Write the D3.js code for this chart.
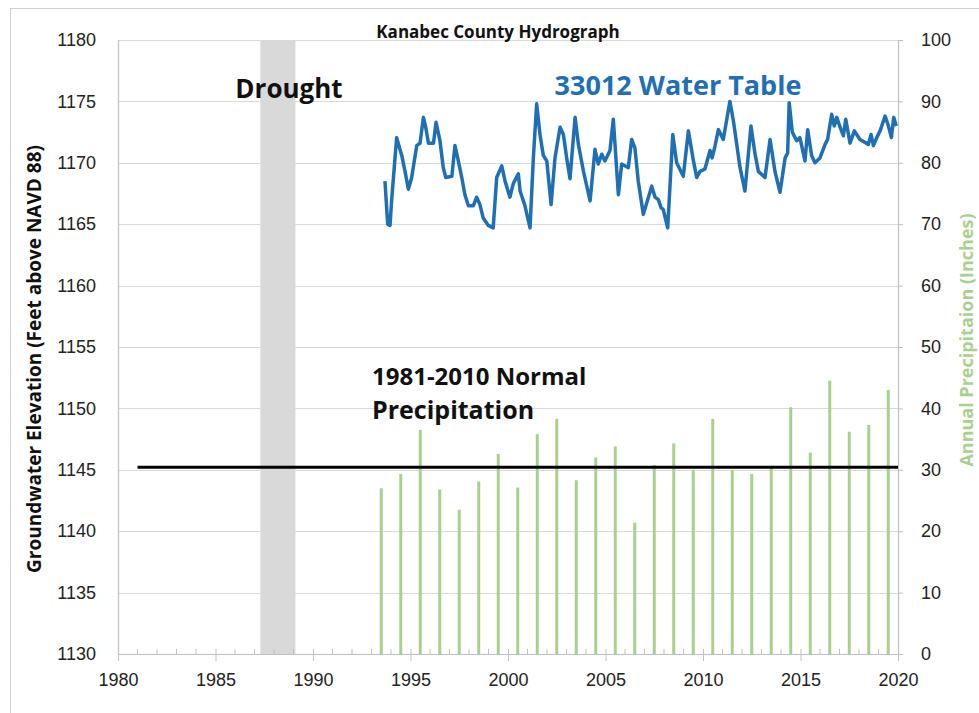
<!DOCTYPE html>
<html><head><meta charset="utf-8">
<script src="https://cdn.jsdelivr.net/npm/d3@7"></script>
<style>body{margin:0;background:#fff;} svg{display:block;font-family:"Open Sans","Liberation Sans",sans-serif;}</style>
</head><body><svg id="c" width="979" height="713"></svg>
<script>
const precipYears = [1993,1994,1995,1996,1997,1998,1999,2000,2001,2002,2003,2004,2005,2006,2007,2008,2009,2010,2011,2012,2013,2014,2015,2016,2017,2018,2019];
const precipInches = [27.0,29.3,36.5,26.8,23.5,28.1,32.6,27.1,35.8,38.3,28.3,32.0,33.8,21.4,30.8,34.3,30.0,38.3,30.0,29.3,30.6,40.2,32.8,44.5,36.2,37.3,43.0];
const wtYears = [1993.69,1993.83,1993.95,1994.03,1994.29,1994.55,1994.72,1994.89,1995.06,1995.32,1995.49,1995.66,1995.78,1995.92,1996.18,1996.31,1996.51,1996.68,1996.81,1997.12,1997.28,1997.42,1997.63,1997.79,1997.97,1998.22,1998.39,1998.56,1998.73,1998.99,1999.24,1999.42,1999.68,1999.85,2000.1,2000.27,2000.53,2000.62,2000.87,2001.13,2001.3,2001.47,2001.64,2001.81,2001.99,2002.21,2002.41,2002.67,2002.84,2003.01,2003.18,2003.44,2003.61,2003.87,2004.21,2004.46,2004.63,2004.81,2004.97,2005.23,2005.4,2005.66,2005.83,2006.17,2006.34,2006.51,2006.68,2006.94,2007.37,2007.54,2007.71,2007.85,2007.96,2008.19,2008.45,2008.65,2008.99,2009.25,2009.51,2009.68,2009.85,2010.1,2010.36,2010.47,2010.62,2010.79,2011.04,2011.38,2011.56,2011.9,2012.15,2012.46,2012.67,2012.84,2013.18,2013.44,2013.69,2013.95,2014.21,2014.34,2014.42,2014.58,2014.8,2014.97,2015.23,2015.37,2015.57,2015.74,2016.0,2016.26,2016.39,2016.6,2016.73,2016.86,2017.03,2017.2,2017.32,2017.54,2017.76,2018.05,2018.48,2018.62,2018.74,2018.91,2019.08,2019.34,2019.51,2019.66,2019.78,2019.91];
const wtLevels = [1168.5,1165.0,1164.9,1166.9,1172.05,1170.6,1169.3,1167.85,1168.8,1171.4,1171.6,1173.7,1172.9,1171.6,1171.6,1173.3,1171.8,1169.6,1168.8,1168.9,1171.4,1170.4,1168.8,1167.4,1166.5,1166.5,1167.2,1166.6,1165.5,1164.9,1164.7,1168.8,1169.75,1168.5,1167.2,1168.3,1169.1,1167.7,1166.5,1164.7,1170.4,1174.8,1172.3,1170.6,1170.15,1166.6,1170.4,1172.9,1172.3,1170.4,1168.7,1173.7,1171.5,1169.3,1166.9,1171.1,1169.9,1170.7,1170.15,1171.0,1173.55,1167.4,1169.9,1169.6,1171.9,1171.2,1168.5,1165.8,1168.1,1167.2,1167.0,1166.35,1166.2,1164.7,1172.3,1170.0,1168.9,1172.6,1170.15,1168.8,1169.3,1169.5,1171.0,1170.4,1171.4,1172.7,1171.9,1175.0,1173.4,1169.6,1167.7,1173.0,1170.7,1169.3,1168.8,1171.9,1169.3,1167.6,1170.4,1170.8,1174.9,1172.5,1171.8,1172.05,1170.15,1172.7,1170.6,1170.0,1170.4,1171.5,1171.9,1173.95,1173.0,1173.7,1172.9,1172.2,1173.55,1171.6,1172.6,1171.9,1171.5,1172.3,1171.4,1172.05,1172.6,1173.8,1173.0,1172.05,1173.7,1173.0];
const leftTicks = [1130,1135,1140,1145,1150,1155,1160,1165,1170,1175,1180];
const rightTicks = [0,10,20,30,40,50,60,70,80,90,100];
const xTicks = [1980,1985,1990,1995,2000,2005,2010,2015,2020];
const normalPrecip = 30.4;
const normalSpan = [1981, 2020];
const droughtSpan = [1987.3, 1989.1];

const svg = d3.select("#c");
const L=118, R=898, T=40, B=654;
const x = d3.scaleLinear().domain([1980,2020]).range([L,R]);
const yL = d3.scaleLinear().domain([1130,1180]).range([B,T]);
const yR = d3.scaleLinear().domain([0,100]).range([B,T]);

// outer border
svg.append("rect").attr("x",10.5).attr("y",8.5).attr("width",1000).attr("height",1000)
  .attr("fill","none").attr("stroke","#d0d0d0");

// gridlines
svg.append("g").selectAll("line").data(leftTicks.filter(d=>d>1130)).join("line")
  .attr("x1",L).attr("x2",R).attr("y1",d=>Math.round(yL(d))+0.5).attr("y2",d=>Math.round(yL(d))+0.5)
  .attr("stroke","#d9d9d9").attr("stroke-width",1.2);

// drought band
svg.append("rect").attr("x",x(droughtSpan[0])).attr("width",x(droughtSpan[1])-x(droughtSpan[0]))
  .attr("y",T).attr("height",B-T).attr("fill","#d9d9d9");

// precipitation bars
svg.append("g").selectAll("line").data(precipYears).join("line")
  .attr("x1",(d)=>x(d+0.5)).attr("x2",(d)=>x(d+0.5))
  .attr("y1",B).attr("y2",(d,i)=>yR(precipInches[i]))
  .attr("stroke","#a9d18e").attr("stroke-width",3);

// axes lines
svg.append("line").attr("x1",L+0.5).attr("x2",L+0.5).attr("y1",T).attr("y2",B).attr("stroke","#bfbfbf").attr("stroke-width",1.2);
svg.append("line").attr("x1",R+0.5).attr("x2",R+0.5).attr("y1",T).attr("y2",B).attr("stroke","#bfbfbf").attr("stroke-width",1.2);

// x axis
const xAxis = d3.axisBottom(x).tickValues(xTicks).tickFormat(d3.format("d")).tickSize(7).tickSizeOuter(0);
const gx = svg.append("g").attr("transform",`translate(0,${B})`).call(xAxis);
gx.select(".domain").attr("stroke","#bfbfbf").attr("stroke-width",1.2);
gx.selectAll(".tick line").attr("stroke","#bfbfbf").attr("y1",-5);
gx.selectAll(".tick text").attr("font-size",18).attr("fill","#222").attr("dy","1.2em");
const minorYears = d3.range(1980,2021).filter(d=>d%5!==0);
svg.append("g").selectAll("line").data(minorYears).join("line")
  .attr("x1",d=>x(d)).attr("x2",d=>x(d)).attr("y1",B-5).attr("y2",B)
  .attr("stroke","#bfbfbf");

// left axis
const gl = svg.append("g").attr("transform",`translate(${L},0)`)
  .call(d3.axisLeft(yL).tickValues(leftTicks).tickFormat(d3.format("d")).tickSize(0).tickPadding(22));
gl.select(".domain").remove();
gl.selectAll(".tick text").attr("font-size",18).attr("fill","#222");

// right axis
const gr = svg.append("g").attr("transform",`translate(${R},0)`)
  .call(d3.axisRight(yR).tickValues(rightTicks).tickSize(5).tickPadding(18));
gr.select(".domain").remove();
gr.selectAll(".tick line").attr("stroke","#bfbfbf");
gr.selectAll(".tick text").attr("font-size",18).attr("fill","#222");

// normal precipitation line
svg.append("line").attr("x1",x(normalSpan[0])).attr("x2",x(normalSpan[1]))
  .attr("y1",yR(normalPrecip)).attr("y2",yR(normalPrecip)).attr("stroke","#000").attr("stroke-width",3);

// water table line
const line = d3.line().x((d,i)=>x(wtYears[i])).y(d=>yL(d));
svg.append("path").datum(wtLevels).attr("d",line).attr("fill","none")
  .attr("stroke","#1f6fb5").attr("stroke-width",3.5).attr("stroke-linejoin","round");

// text
svg.append("text").attr("x",498).attr("y",38).attr("text-anchor","middle")
  .attr("font-size",17).attr("font-weight","bold").attr("fill","#111").text("Kanabec County Hydrograph");
svg.append("text").attr("x",289).attr("y",98).attr("text-anchor","middle")
  .attr("font-size",26).attr("font-weight","bold").attr("fill","#111").text("Drought");
svg.append("text").attr("x",678).attr("y",95).attr("text-anchor","middle")
  .attr("font-size",27).attr("font-weight","bold").attr("fill","#1f6fb5").text("33012 Water Table");
svg.append("text").attr("x",372).attr("y",385)
  .attr("font-size",24).attr("font-weight","bold").attr("fill","#111").text("1981-2010 Normal");
svg.append("text").attr("x",372).attr("y",419)
  .attr("font-size",25).attr("font-weight","bold").attr("fill","#111").text("Precipitation");
svg.append("text").attr("transform","translate(41,359) rotate(-90)").attr("text-anchor","middle")
  .attr("font-size",19).attr("font-weight","bold").attr("fill","#111").text("Groundwater Elevation (Feet above NAVD 88)");
svg.append("text").attr("transform","translate(973,340) rotate(-90)").attr("text-anchor","middle")
  .attr("font-size",18).attr("font-weight","bold").attr("fill","#a9d18e").text("Annual Precipitaion (Inches)");
</script></body></html>
